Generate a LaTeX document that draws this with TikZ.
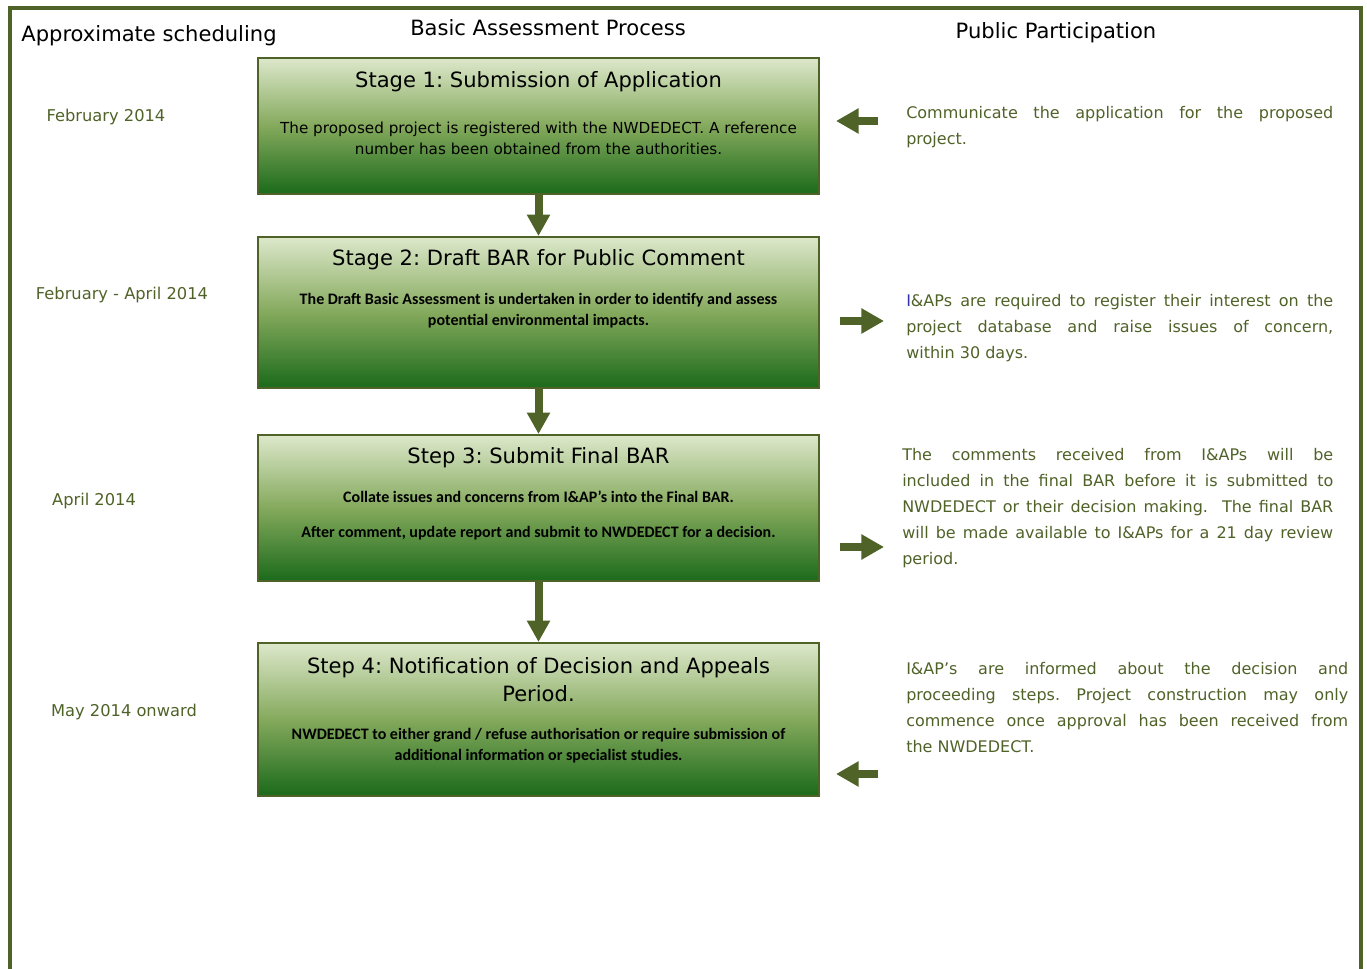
\documentclass[tikz,border=0pt]{standalone}
\usepackage{fontspec}
\setmainfont{DejaVu Sans}
\newfontfamily\calibri{Carlito}
\usetikzlibrary{arrows.meta}
\frenchspacing
\definecolor{framegreen}{HTML}{4F6228}
\definecolor{boxtop}{HTML}{DDE8CB}
\definecolor{boxmid}{HTML}{84A95C}
\definecolor{boxbot}{HTML}{1B6A1B}
\definecolor{iblue}{HTML}{3333AA}
\tikzset{
	stagebox/.style={draw=framegreen, line width=1.5pt, top color=boxtop, bottom color=boxbot, middle color=boxmid, minimum width=420.75pt, inner sep=0pt},
	boxtitle/.style={font=\fontsize{15.8}{21}\selectfont, align=center, inner sep=0pt},
	boxbody/.style={font=\calibri\bfseries\fontsize{12}{15.75}\selectfont, align=center, inner sep=0pt},
	plainbody/.style={font=\fontsize{11.4}{15.75}\selectfont, align=center, inner sep=0pt},
	colhead/.style={font=\fontsize{15.8}{19}\selectfont, inner sep=0pt},
	datelabel/.style={text=framegreen, font=\fontsize{12.2}{14}\selectfont, inner sep=0pt},
	partext/.style={text=framegreen, font=\fontsize{12}{19.5}\selectfont, align=justify, anchor=west, inner sep=0pt},
	downarrow/.style={framegreen, line width=6pt, -{Triangle[width=16.5pt,length=16pt]}},
	sidearrow/.style={framegreen, line width=6pt, -{Triangle[width=18pt,length=17pt]}},
}
\begin{document}
\begin{tikzpicture}[x=0.75pt,y=-0.75pt]
				\useasboundingbox (0,0) rectangle (1367,969);
				\draw[framegreen, line width=3pt] (9.5,969) -- (9.5,8.5) -- (1361,8.5) -- (1361,969);
				\node[colhead] (hsched) at (149,36) {Approximate scheduling};
				\node[colhead] (hproc) at (548,28) {Basic Assessment Process};
				\node[colhead] (hpart) at (1056,33) {Public Participation};
				\node[stagebox, minimum height=102pt] (s1) at (538.5,126) {};
				\node[stagebox, minimum height=113.25pt] (s2) at (538.5,312.5) {};
				\node[stagebox, minimum height=109.5pt] (s3) at (538.5,508) {};
				\node[stagebox, minimum height=114.75pt] (s4) at (538.5,719.5) {};
				\node[boxtitle] (t1) at (538.5,82) {Stage 1: Submission of Application};
				\node[plainbody] (b1) at (538.5,138.5) {The proposed project is registered with the NWDEDECT. A reference\\ number has been obtained from the authorities.};
				\node[boxtitle] (t2) at (538.5,260) {Stage 2: Draft BAR for Public Comment};
				\node[boxbody] (b2) at (538.5,311) {The Draft Basic Assessment is undertaken in order to identify and assess\\ potential environmental impacts.};
				\node[boxtitle] (t3) at (538.5,458) {Step 3: Submit Final BAR};
				\node[boxbody] (b3) at (538.5,515) {Collate issues and concerns from I\&AP’s into the Final BAR.\\[10.5pt] After comment, update report and submit to NWDEDECT for a decision.};
				\node[boxtitle] (t4) at (538.5,680) {Step 4: Notification of Decision and Appeals\\ Period.};
				\node[boxbody] (b4) at (538.5,746) {NWDEDECT to either grand / refuse authorisation or require submission of\\ additional information or specialist studies.};
				\draw[downarrow] (s1.south) -- (s2.north);
				\draw[downarrow] (s2.south) -- (s3.north);
				\draw[downarrow] (s3.south) -- (s4.north);
				\node[datelabel] (d1) at (106,117) {February 2014};
				\node[datelabel] (d2) at (122,295) {February - April 2014};
				\node[datelabel] (d3) at (94,501) {April 2014};
				\node[datelabel] (d4) at (124,712) {May 2014 onward};
				\node[partext, text width=320.25pt] (r1) at (906,127) {Communicate the application for the proposed\linebreak project.};
				\node[partext, text width=320.25pt] (r2) at (906,328) {{\color{iblue}I}\&APs are required to register their interest on the\linebreak project database and raise issues of concern,\linebreak within 30 days.};
				\node[partext, text width=323.25pt] (r3) at (902,508) {The comments received from I\&APs will be\linebreak included in the final BAR before it is submitted to\linebreak NWDEDECT or their decision making.~ The final BAR\linebreak will be made available to I\&APs for a 21 day review\linebreak period.};
				\node[partext, text width=331.5pt] (r4) at (906,708) {I\&AP’s are informed about the decision and\linebreak proceeding steps. Project construction may only\linebreak commence once approval has been received from\linebreak the NWDEDECT.};
				\coordinate (a1from) at (878,121);
				\coordinate (a1to) at (836,121);
				\coordinate (a2from) at (840,321);
				\coordinate (a2to) at (884,321);
				\coordinate (a3from) at (840,547);
				\coordinate (a3to) at (884,547);
				\coordinate (a4from) at (878,774);
				\coordinate (a4to) at (836,774);
				\draw[sidearrow] (a1from) -- (a1to);
				\draw[sidearrow] (a2from) -- (a2to);
				\draw[sidearrow] (a3from) -- (a3to);
				\draw[sidearrow] (a4from) -- (a4to);
			\end{tikzpicture}
\end{document}
